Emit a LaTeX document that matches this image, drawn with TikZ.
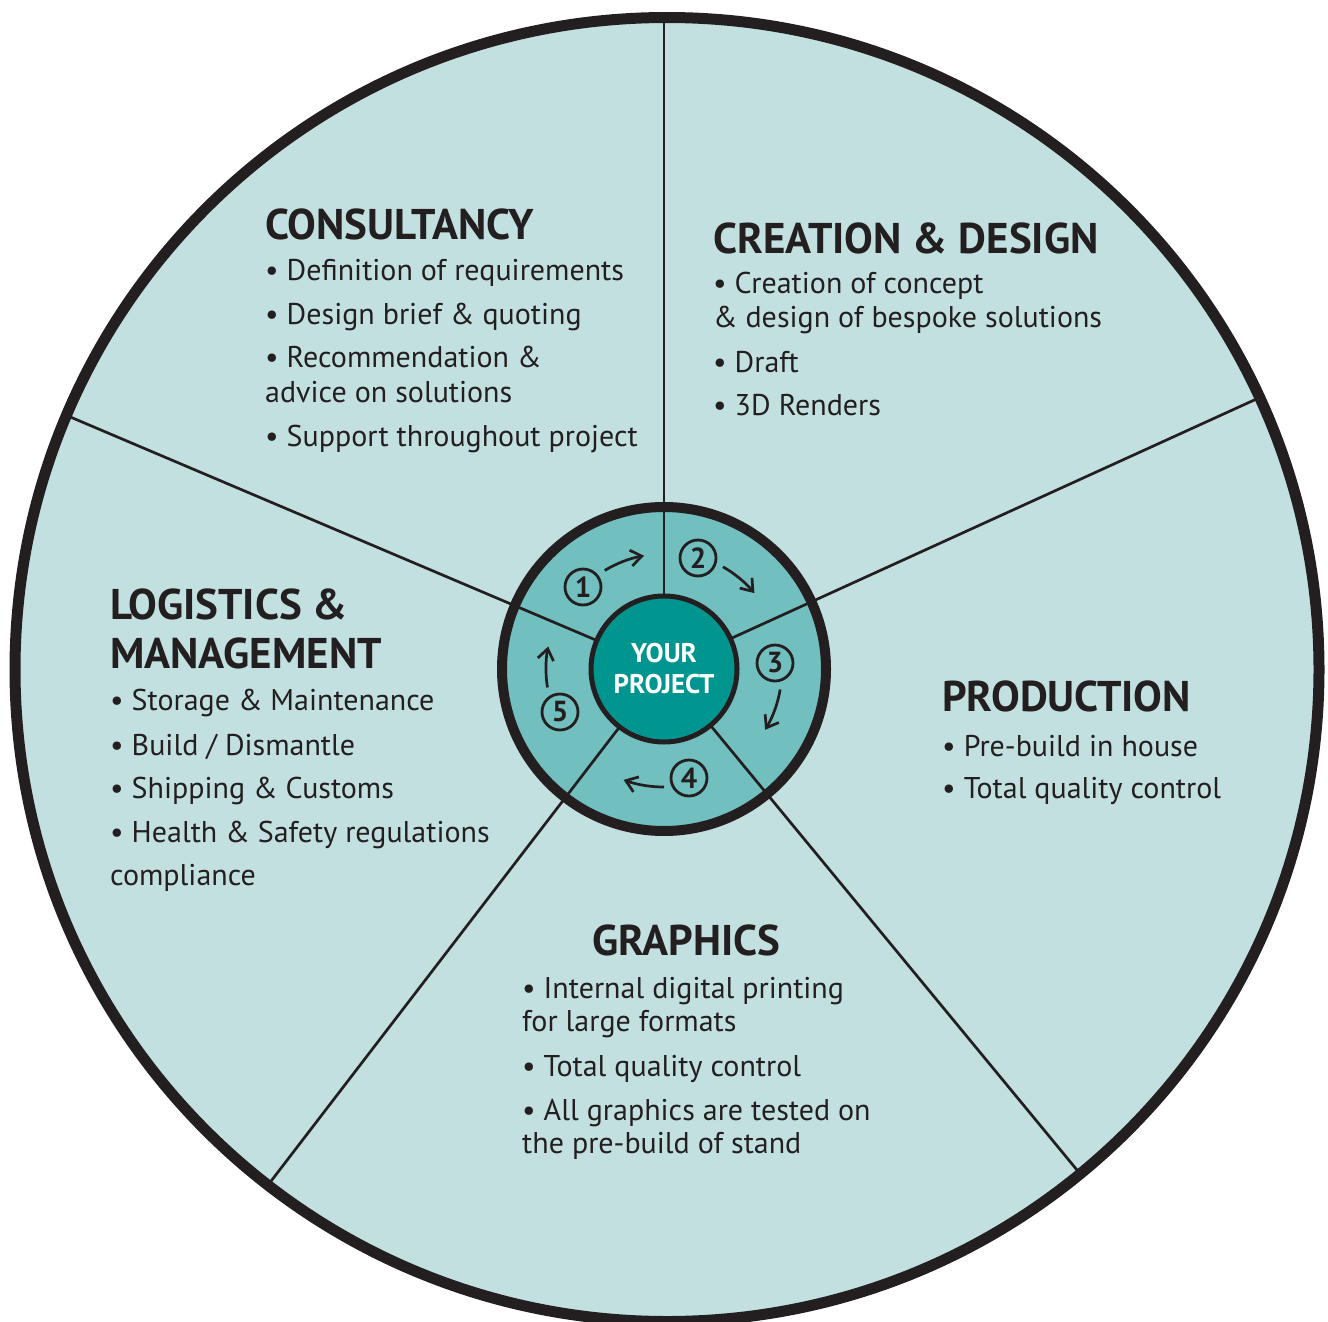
\documentclass[tikz,border=0pt]{standalone}
\usepackage{fontspec}
\setmainfont{PT Sans}
\usetikzlibrary{arrows.meta,positioning}

\definecolor{wheelfill}{HTML}{C2E0E0}
\definecolor{ringfill}{HTML}{72BFBF}
\definecolor{corefill}{HTML}{00958F}
\definecolor{inkblack}{HTML}{231F20}

\tikzset{
  heading/.style={anchor=base west, inner sep=0pt, text=inkblack,
    font=\fontsize{43}{47}\selectfont\bfseries},
  item/.style={anchor=base west, inner sep=0pt, text=inkblack,
    font=\fontsize{30}{34}\selectfont},
  spoke/.style={draw=inkblack, line width=2.7pt},
  stepnum/.style={circle, draw=inkblack, line width=2.8pt, minimum size=36pt,
    inner sep=0pt, text=inkblack, font=\fontsize{29}{29}\selectfont\bfseries},
  turn/.style={draw=inkblack, line width=2.7pt,
    -{Straight Barb[length=11pt,width=16pt]}},
}

\begin{document}
\begin{tikzpicture}[x=1pt,y=-1pt]
\useasboundingbox (0,0) rectangle (1328,1322);

% wheel
\coordinate (o) at (667,669.5);
\coordinate (c) at (664,669);
\fill[wheelfill] (o) circle (652);
\fill[ringfill] (c) circle (162);
\foreach \a in {-90,-24.5,50.5,127.5,-157}
  \draw[spoke] (c) ++(\a:72) -- ++(\a:582);
\draw[inkblack, line width=10pt] (c) circle (162);
\draw[inkblack, line width=11pt] (o) circle (652);
\node[circle, fill=corefill, draw=inkblack, line width=5pt, minimum size=146pt,
  inner sep=0pt, align=center, text=white,
  font=\fontsize{27}{31}\selectfont\bfseries] (core) at (c) {YOUR\\PROJECT};

% steps
\node[stepnum] (s1) at (583,587) {1};
\node[stepnum] (s2) at (698,558) {2};
\node[stepnum] (s3) at (775,663) {3};
\node[stepnum] (s4) at (689,778) {4};
\node[stepnum] (s5) at (560,712) {5};
\draw[turn] (c) ++(-121:115) arc[start angle=-121, end angle=-100, radius=115];
\draw[turn] (c) ++(-60:118) arc[start angle=-60, end angle=-40, radius=118];
\draw[turn] (c) ++(10:118) arc[start angle=10, end angle=31, radius=118];
\draw[turn] (c) ++(90:118) arc[start angle=90, end angle=110, radius=118];
\draw[turn] (c) ++(-189:118) arc[start angle=-189, end angle=-169, radius=118];

% consultancy
\node[heading] (consult) at (265,239) {CONSULTANCY};
\foreach \y/\t [count=\i] in {280/{• Definition of requirements},
    324/{• Design brief \& quoting}, 367/{• Recommendation \&},
    402/{advice on solutions}, 446/{• Support throughout project}}
  \node[item] (consult\i) at (265,\y) {\t};

% creation
\node[heading] (create) at (713,253) {CREATION \& DESIGN};
\foreach \y/\t [count=\i] in {293/{• Creation of concept},
    327/{\& design of bespoke solutions}, 372/{• Draft}, 415/{• 3D Renders}}
  \node[item] (create\i) at (713,\y) {\t};

% logistics
\node[heading] (logist) at (110,619) {LOGISTICS \&};
\node[heading] (manage) at (110,668) {MANAGEMENT};
\foreach \y/\t [count=\i] in {710/{• Storage \& Maintenance},
    755/{• Build / Dismantle}, 798/{• Shipping \& Customs},
    842/{• Health \& Safety regulations}, 885/{compliance}}
  \node[item] (logist\i) at (110,\y) {\t};

% production
\node[heading] (product) at (942,711) {PRODUCTION};
\foreach \y/\t [count=\i] in {756/{• Pre-build in house},
    798/{• Total quality control}}
  \node[item] (product\i) at (942,\y) {\t};

% graphics
\node[heading] (graph) at (592,955) {GRAPHICS};
\foreach \y/\t [count=\i] in {998/{• Internal digital printing},
    1031/{for large formats}, 1076/{• Total quality control},
    1120/{• All graphics are tested on}, 1153/{the pre-build of stand}}
  \node[item] (graph\i) at (522,\y) {\t};
\end{tikzpicture}
\end{document}
